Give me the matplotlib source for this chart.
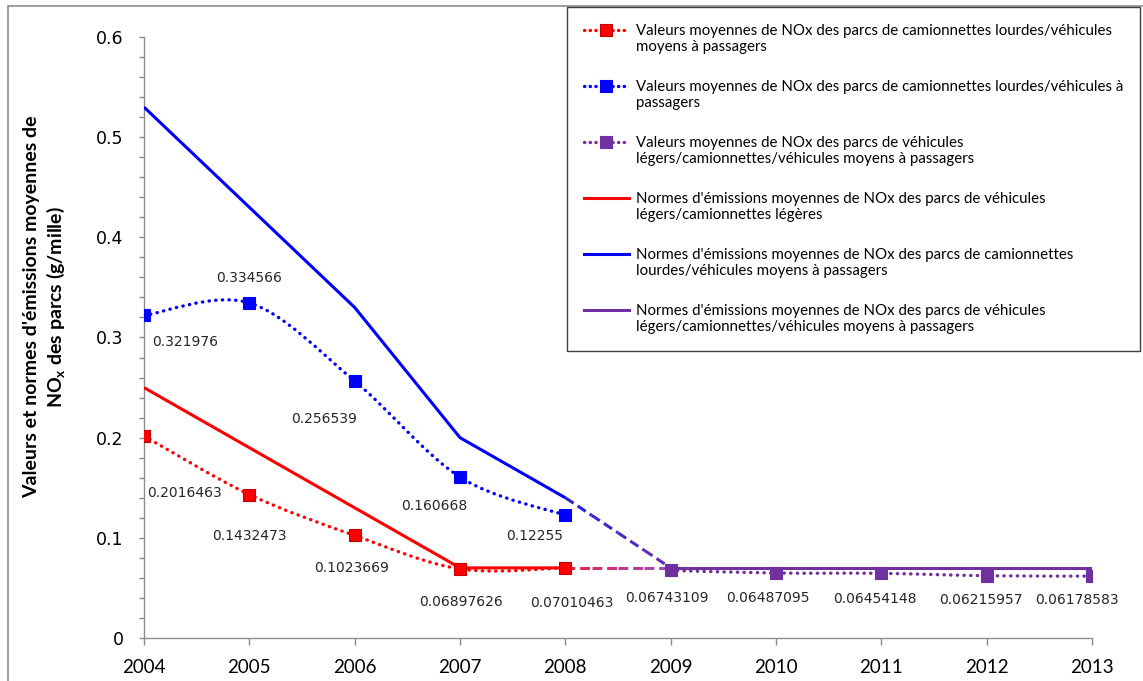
import numpy as np
import matplotlib
matplotlib.use("Agg")
import matplotlib.pyplot as plt
from matplotlib.path import Path
from matplotlib.patches import PathPatch, Rectangle
from matplotlib.lines import Line2D
from matplotlib.collections import LineCollection
from matplotlib.legend_handler import HandlerLine2D
import matplotlib.colors as mcolors

# ---------------- data ----------------
years_a = [2004, 2005, 2006, 2007, 2008]
years_b = [2009, 2010, 2011, 2012, 2013]
val_red = [0.2016463, 0.1432473, 0.1023669, 0.06897626, 0.07010463]
val_blue = [0.321976, 0.334566, 0.256539, 0.160668, 0.12255]
val_purple = [0.06743109, 0.06487095, 0.06454148, 0.06215957, 0.06178583]
norm_red = [0.25, 0.19, 0.13, 0.07, 0.07]
norm_blue = [0.53, 0.43, 0.33, 0.20, 0.14]
norm_purple = [0.07, 0.07, 0.07, 0.07, 0.07]
lbl_red = ["0.2016463", "0.1432473", "0.1023669", "0.06897626", "0.07010463"]
lbl_blue = ["0.321976", "0.334566", "0.256539", "0.160668", "0.12255"]
lbl_purple = ["0.06743109", "0.06487095", "0.06454148", "0.06215957", "0.06178583"]
legend_labels = [
    "Valeurs moyennes de NOx des parcs de camionnettes lourdes/véhicules\nmoyens à passagers",
    "Valeurs moyennes de NOx des parcs de camionnettes lourdes/véhicules à\npassagers",
    "Valeurs moyennes de NOx des parcs de véhicules\nlégers/camionnettes/véhicules moyens à passagers",
    "Normes d'émissions moyennes de NOx des parcs de véhicules\nlégers/camionnettes légères",
    "Normes d'émissions moyennes de NOx des parcs de camionnettes\nlourdes/véhicules moyens à passagers",
    "Normes d'émissions moyennes de NOx des parcs de véhicules\nlégers/camionnettes/véhicules moyens à passagers",
]
ylabel_text = "Valeurs et normes d'émissions moyennes de\nNO$_\\mathregular{x}$ des parcs (g/mille)"

# label offsets in pixels (style)
off_red = [(40, -57), (0, -41), (-3, -33), (1, -33), (6, -35)]
off_blue = [(41, -27), (0, 25), (-31, -38), (-26, -29), (-31, -21)]
off_purple = [(-4, -28), (-8, -25), (-6, -26), (-6, -24), (-15, -24)]

RED = "#ff0000"
BLUE = "#0000ff"
PURPLE = "#7030a0"

W, H = 1143, 681
fig = plt.figure(figsize=(W / 100, H / 100), dpi=100)
ax = fig.add_axes([144 / W, 1 - 638 / H, (1092 - 144) / W, (638 - 37) / H])

# figure border
fig.patches.append(Rectangle((8 / W, -0.2), 1.2, 1.2 - 6 / H, transform=fig.transFigure,
                             fill=False, edgecolor="#8c8c8c", lw=1.2, clip_on=False))


def smooth_path(x, y):
    pts = np.column_stack([x, y]).astype(float)
    n = len(pts)
    verts = [pts[0]]
    codes = [Path.MOVETO]
    for i in range(n - 1):
        p0 = pts[i - 1] if i > 0 else pts[i]
        p1 = pts[i]
        p2 = pts[i + 1]
        p3 = pts[i + 2] if i + 2 < n else pts[i + 1]
        c1 = p1 + (p2 - p0) / 6.0
        c2 = p2 - (p3 - p1) / 6.0
        verts += [c1, c2, p2]
        codes += [Path.CURVE4] * 3
    return Path(verts, codes)


dot_style = (0, (0.1, 1.9))
DOT_LW = 2.4
MS = 8

# norm lines
ax.plot(years_a, norm_red, color=RED, lw=2.2, zorder=3, solid_capstyle="butt")
ax.plot(years_a, norm_blue, color=BLUE, lw=2.2, zorder=3, solid_capstyle="butt")
ax.plot(years_b, norm_purple, color=PURPLE, lw=2.2, zorder=3, solid_capstyle="butt")


# gradient dashed transitions between 2008 and 2009 norms
def grad_dashed(x0, y0, x1, y1, c0, c1, n=5):
    c0 = np.array(mcolors.to_rgb(c0))
    c1 = np.array(mcolors.to_rgb(c1))
    ts = np.linspace(0, 1, n + 1)
    segs = []
    cols = []
    for k in range(n):
        ta, tb = ts[k], ts[k + 1]
        segs.append([(x0 + (x1 - x0) * ta, y0 + (y1 - y0) * ta),
                     (x0 + (x1 - x0) * tb, y0 + (y1 - y0) * tb)])
        cols.append(c0 + (c1 - c0) * (ta + tb) / 2)
    lc = LineCollection(segs, colors=cols, linewidths=2.2, linestyles=[(0, (3.2, 1.6))],
                        zorder=3, capstyle="butt")
    ax.add_collection(lc)


grad_dashed(years_a[-1], norm_blue[-1], years_b[0], norm_purple[0], "#2020e0", "#6a30b0", n=4)
grad_dashed(years_a[-1], norm_red[-1], years_b[0], norm_purple[0], "#e8203c", "#9a4cc0", n=4)

# value series (smoothed dotted) + markers
for xs, ys, col, ec in [(years_a, val_red, RED, "#c00000"),
                        (years_a, val_blue, BLUE, BLUE),
                        (years_b, val_purple, PURPLE, PURPLE)]:
    pp = PathPatch(smooth_path(xs, ys), fill=False, edgecolor=col, lw=DOT_LW,
                   linestyle=dot_style, capstyle="round", zorder=4)
    ax.add_patch(pp)
    ax.plot(xs, ys, ls="none", marker="s", ms=MS, color=col, mec=ec, mew=0.8, zorder=5)

# data labels
lab_kw = dict(textcoords="offset pixels", ha="center", va="center", fontsize=10,
              color="#262626", family="DejaVu Sans", zorder=6)
for xs, ys, labs, offs in [(years_a, val_red, lbl_red, off_red),
                           (years_a, val_blue, lbl_blue, off_blue),
                           (years_b, val_purple, lbl_purple, off_purple)]:
    for x, y, t, o in zip(xs, ys, labs, offs):
        ax.annotate(t, (x, y), xytext=o, **lab_kw)

# axes styling
ax.set_xlim(2004, 2013)
ax.set_ylim(0, 0.6)
ax.set_xticks(list(range(2004, 2014)))
ax.set_yticks(np.arange(0, 0.61, 0.1))
ax.set_yticks(np.arange(0, 0.601, 0.02), minor=True)
ax.set_yticklabels(["0", "0.1", "0.2", "0.3", "0.4", "0.5", "0.6"])
for s in ["top", "right"]:
    ax.spines[s].set_visible(False)
for s in ["left", "bottom"]:
    ax.spines[s].set_color("#8c8c8c")
    ax.spines[s].set_linewidth(1.0)
ax.tick_params(axis="y", which="both", direction="out", length=3.6, width=1.0, color="#8c8c8c",
               pad=11)
ax.tick_params(axis="y", which="major", labelsize=12.5)
ax.tick_params(axis="x", direction="out", length=5, width=1.0, color="#8c8c8c", pad=10,
               labelsize=13.5)
for t in ax.get_yticklabels():
    t.set_family("DejaVu Sans")
for t in ax.get_xticklabels():
    t.set_family("Lato")

# y label
fig.text(45 / W, 1 - 307 / H, ylabel_text, rotation=90, ha="center", va="center",
         multialignment="center", fontsize=14, fontweight="bold", family="Lato",
         linespacing=1.2)


# legend
class UpHandler(HandlerLine2D):
    def create_artists(self, legend, orig_handle, xdescent, ydescent, width, height,
                       fontsize, trans):
        dy = 0.6 * fontsize
        return super().create_artists(legend, orig_handle, xdescent, ydescent - 2 * dy,
                                      width, height, fontsize, trans)


leg_dot = (0, (0.1, 1.6))
handles = [
    Line2D([], [], color=RED, lw=DOT_LW, ls=leg_dot, dash_capstyle="round",
           marker="s", ms=MS, mec="#c00000", mew=0.8),
    Line2D([], [], color=BLUE, lw=DOT_LW, ls=leg_dot, dash_capstyle="round",
           marker="s", ms=MS, mec=BLUE, mew=0.8),
    Line2D([], [], color=PURPLE, lw=DOT_LW, ls=leg_dot, dash_capstyle="round",
           marker="s", ms=MS, mec=PURPLE, mew=0.8),
    Line2D([], [], color=RED, lw=2.2),
    Line2D([], [], color=BLUE, lw=2.2),
    Line2D([], [], color=PURPLE, lw=2.2),
]
hm = {h: UpHandler() for h in handles}
leg = fig.legend(handles, legend_labels, loc="upper left",
                 bbox_to_anchor=(567 / W, 1 - 7 / H), bbox_transform=fig.transFigure,
                 borderaxespad=0, frameon=True, fancybox=False, framealpha=1,
                 edgecolor="#404040", prop={"family": "Lato", "size": 10.85},
                 handlelength=3.0, handletextpad=0.5, borderpad=1.1, labelspacing=1.72,
                 handler_map=hm)
leg.get_frame().set_linewidth(1.0)
for t in leg.get_texts():
    t.set_linespacing(1.2)

fig.savefig("out.png", dpi=100)
